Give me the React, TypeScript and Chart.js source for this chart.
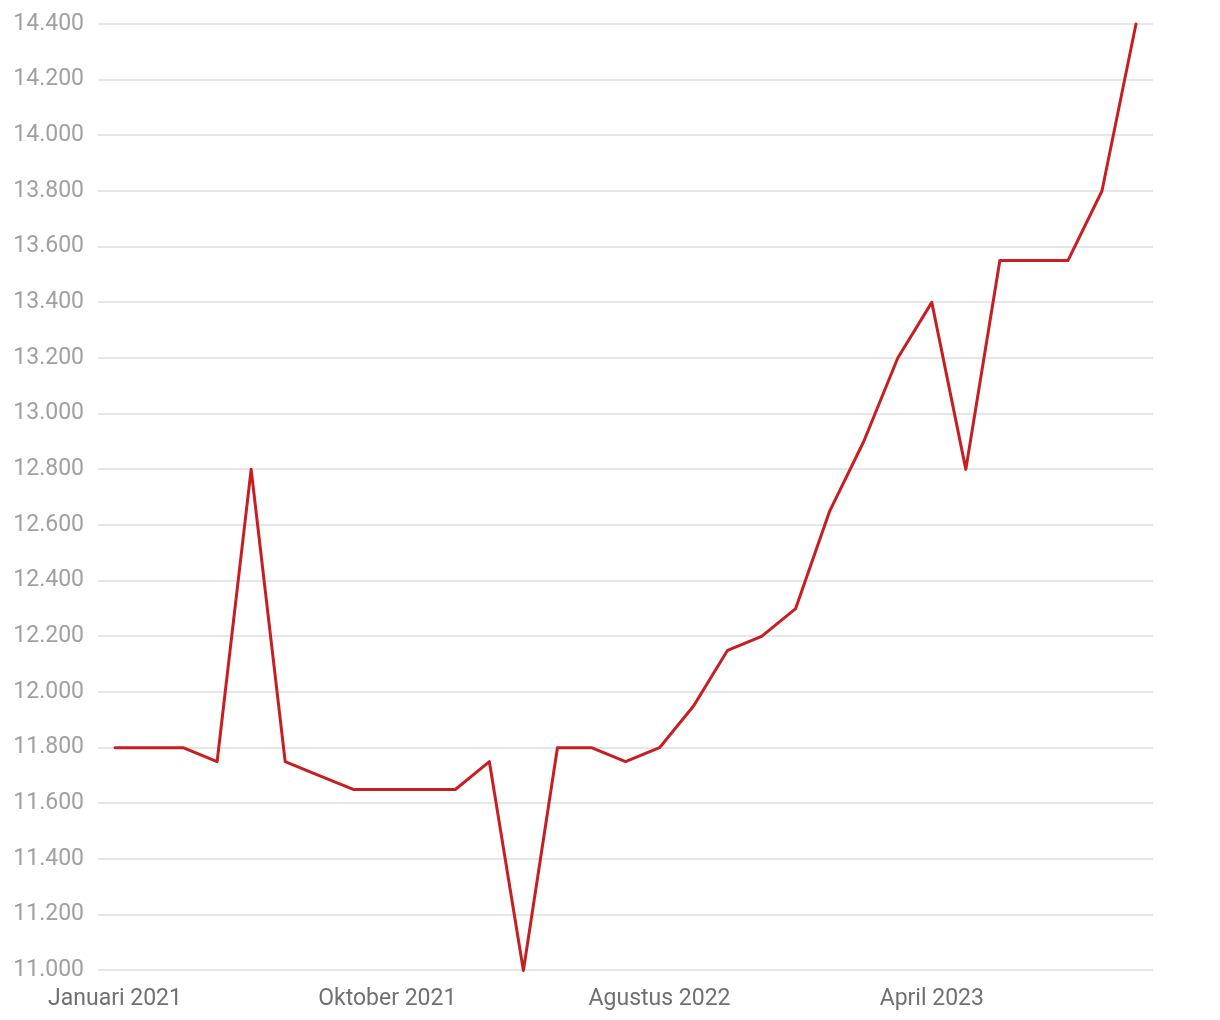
import React, { useEffect, useRef } from "react";
import { Chart, registerables } from "chart.js";

Chart.register(...registerables);

const labels: string[] = [
  "Januari 2021", "Februari 2021", "Maret 2021", "April 2021", "Mei 2021", "Juni 2021", "Juli 2021", "Agustus 2021",
  "Oktober 2021", "November 2021", "Desember 2021", "Januari 2022", "Februari 2022", "Maret 2022", "Mei 2022", "Juni 2022",
  "Agustus 2022", "September 2022", "Oktober 2022", "November 2022", "Desember 2022", "Januari 2023", "Februari 2023", "Maret 2023",
  "April 2023", "Mei 2023", "Juni 2023", "Juli 2023", "Agustus 2023", "September 2023", "Oktober 2023",
];

const values: number[] = [
  11800, 11800, 11800, 11750, 12800, 11750, 11700, 11650,
  11650, 11650, 11650, 11750, 11000, 11800, 11800, 11750,
  11800, 11950, 12150, 12200, 12300, 12650, 12900, 13200,
  13400, 12800, 13550, 13550, 13550, 13800, 14400,
];

const shownTickIndices: number[] = [0, 8, 16, 24];

const yMin = 11000;
const yMax = 14400;
const yStep = 200;

export default function App() {
  const ref = useRef<HTMLCanvasElement | null>(null);

  useEffect(() => {
    document.body.style.margin = "0";
    if (!ref.current) return;
    const chart = new Chart(ref.current, {
      type: "line",
      data: {
        labels,
        datasets: [
          {
            data: values,
            borderColor: "#c81e22",
            borderWidth: 3,
            borderJoinStyle: "round",
            borderCapStyle: "round",
            pointRadius: 0,
            tension: 0,
            fill: false,
            clip: false,
          },
        ],
      },
      options: {
        animation: false,
        responsive: false,
        maintainAspectRatio: false,
        layout: { padding: { top: 24, right: 67, left: 0, bottom: 0 } },
        plugins: { legend: { display: false }, tooltip: { enabled: false } },
        scales: {
          x: {
            offset: true,
            grid: { display: false },
            border: { display: false },
            ticks: {
              autoSkip: false,
              maxRotation: 0,
              minRotation: 0,
              color: "#707070",
              font: { family: "Roboto", size: 23 },
              padding: 7,
              callback: (_v: any, i: number) => (shownTickIndices.includes(i) ? labels[i] : ""),
            },
          },
          y: {
            min: yMin,
            max: yMax,
            border: { display: false },
            grid: { color: "#e6e6e6", lineWidth: 2, drawTicks: false },
            ticks: {
              stepSize: yStep,
              color: "#a0a0a0",
              padding: 14,
              font: { family: "Roboto", size: 23 },
              callback: (v: any) => Number(v).toLocaleString("de-DE"),
            },
            afterFit: (s: any) => {
              s.width = 98;
              s.paddingTop = 0;
              s.paddingBottom = 0;
            },
          },
        },
      },
    });
    return () => chart.destroy();
  }, []);

  return (
    <div style={{ width: 1220, height: 1020 }}>
      <canvas ref={ref} width={1220} height={1020} />
    </div>
  );
}
